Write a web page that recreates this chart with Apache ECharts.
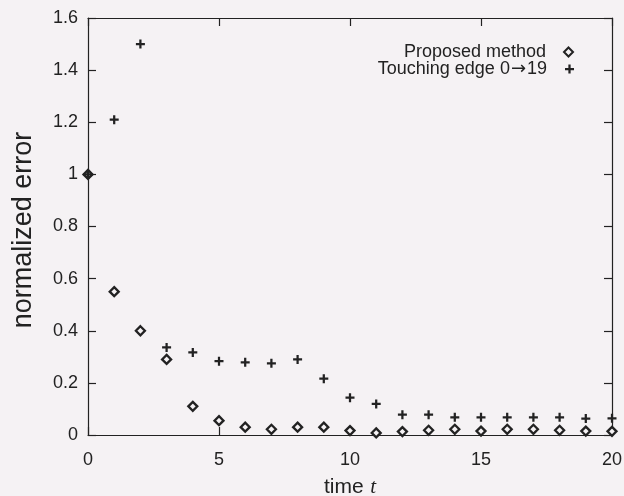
<!DOCTYPE html>
<html lang="en">
<head>
    <meta charset="UTF-8">
    <title>normalized error</title>
    <script src="https://cdn.jsdelivr.net/npm/echarts@6/dist/echarts.min.js"></script>
    <style>
        html, body { margin: 0; padding: 0; background: #f5f2f4; }
        #main { width: 624px; height: 496px; }
    </style>
</head>
<body>
    <div id="main"></div>
    <script>
        // 数据
        var times = [0,1,2,3,4,5,6,7,8,9,10,11,12,13,14,15,16,17,18,19,20];
        var proposed = [1.0,0.55,0.40,0.29,0.11,0.055,0.030,0.022,0.030,0.030,0.017,0.008,0.013,0.018,0.022,0.015,0.022,0.022,0.018,0.015,0.014];
        var touching = [1.0,1.21,1.50,0.336,0.317,0.283,0.279,0.275,0.290,0.216,0.143,0.119,0.078,0.078,0.068,0.068,0.068,0.068,0.068,0.063,0.064];
        var xTicks = [0,5,10,15,20];
        var yTicks = [0,0.2,0.4,0.6,0.8,1,1.2,1.4,1.6];
        var seriesNames = ['Proposed method', 'Touching edge 0\u219219'];

        var ink = '#222';
        var bg = '#f5f2f4';
        var font = 'Liberation Sans, Arial, sans-serif';
        var plusPath = 'path://M3.75,0h2.5v3.75h3.75v2.5h-3.75v3.75h-2.5v-3.75h-3.75v-2.5h3.75z';

        function pairs(vals) {
            return times.map(function (t, i) { return [t, vals[i]]; });
        }

        var mycharts = echarts.init(document.getElementById('main'));

        var axisBase = {
            type: 'value',
            axisLine: { show: true, onZero: false, lineStyle: { color: ink, width: 1.2 } },
            axisTick: { show: true, inside: true, length: 8, lineStyle: { color: ink, width: 1.2 } },
            splitLine: { show: false }
        };

        var legendText = {
            fontFamily: font, fontSize: 18, color: ink,
            padding: [0, 13, 0, 0],
            rich: {
                arr: { fontFamily: 'DejaVu Sans, sans-serif', fontSize: 18, color: ink, padding: [0, 1, 0, 1] }
            }
        };

        function legendItem(name, top) {
            return {
                data: [name],
                right: 45, top: top,
                align: 'right',
                itemWidth: 9, itemHeight: 9,
                formatter: function (n) { return n.replace('\u2192', '{arr|\u2192}'); },
                textStyle: legendText
            };
        }

        var options = {
            backgroundColor: bg,
            animation: false,
            grid: { left: 88, right: 12, top: 18, bottom: 61, outerBoundsMode: 'none' },
            legend: [legendItem(seriesNames[0], 38), legendItem(seriesNames[1], 55)],
            xAxis: [Object.assign({}, axisBase, {
                min: xTicks[0], max: xTicks[xTicks.length - 1], interval: 5,
                position: 'bottom',
                name: '{a|time}  {b|t}',
                nameLocation: 'middle',
                nameGap: 42,
                nameTextStyle: {
                    rich: {
                        a: { fontFamily: font, fontSize: 21, color: ink },
                        b: { fontFamily: 'Liberation Serif, serif', fontStyle: 'italic', fontSize: 21, color: ink }
                    }
                },
                axisLabel: { fontFamily: font, fontSize: 18, color: ink, margin: 16 }
            }), Object.assign({}, axisBase, {
                min: xTicks[0], max: xTicks[xTicks.length - 1], interval: 5,
                position: 'top',
                axisLabel: { show: false }
            })],
            yAxis: [Object.assign({}, axisBase, {
                min: yTicks[0], max: yTicks[yTicks.length - 1], interval: 0.2,
                position: 'left',
                name: 'normalized error',
                nameLocation: 'middle',
                nameRotate: 90,
                nameGap: 51,
                nameTextStyle: { fontFamily: font, fontSize: 27, color: ink, padding: [0, 7, 0, 0] },
                axisLabel: { fontFamily: font, fontSize: 18, color: ink, margin: 10 }
            }), Object.assign({}, axisBase, {
                min: yTicks[0], max: yTicks[yTicks.length - 1], interval: 0.2,
                position: 'right',
                axisLabel: { show: false }
            })],
            series: [{
                name: seriesNames[0],
                type: 'scatter',
                symbol: 'diamond',
                symbolSize: 9,
                itemStyle: { color: bg, borderColor: ink, borderWidth: 2.3, opacity: 1 },
                data: pairs(proposed)
            }, {
                name: seriesNames[1],
                type: 'scatter',
                symbol: plusPath,
                symbolSize: 9,
                itemStyle: { color: ink, opacity: 1 },
                data: pairs(touching)
            }]
        };

        mycharts.setOption(options);
    </script>
</body>
</html>
